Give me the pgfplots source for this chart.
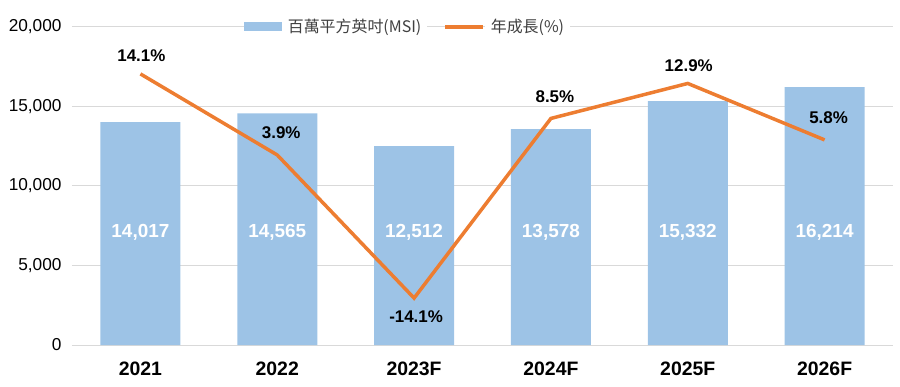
\documentclass[border=0pt]{standalone}
\usepackage{pgfplots}
\pgfplotsset{compat=1.18}
\usepackage{fontspec}
\setmainfont{Liberation Sans}
\newfontfamily\cjk{Noto Sans CJK TC}
\definecolor{barblue}{HTML}{9DC3E6}
\definecolor{lineorange}{HTML}{ED7D31}
\definecolor{gridgray}{HTML}{D9D9D9}
\definecolor{legtext}{HTML}{404040}
\pgfplotsset{/pgf/number format/assume math mode=true}
\begin{document}
\begin{tikzpicture}
\useasboundingbox (-72bp,-42bp) rectangle (828bp,345bp);
\begin{axis}[
  at={(0,0)}, anchor=south west, scale only axis,
  width=821bp, height=318bp,
  xmin=-0.5, xmax=5.5, ymin=0, ymax=20000,
  axis line style={draw=none},
  major tick length=0pt,
  ymajorgrids, grid style={gridgray, line width=1bp},
  xtick={0,1,2,3,4,5},
  xticklabels={2021,2022,2023F,2024F,2025F,2026F},
  ytick={0,5000,10000,15000,20000},
  scaled y ticks=false,
  yticklabel style={font=\fontsize{17.3}{19}\selectfont, /pgf/number format/1000 sep={,}, xshift=-7bp},
  xticklabel style={font=\bfseries\fontsize{19.5}{21}\selectfont, yshift=-13bp},
  legend style={at={(0.408,1)}, anchor=center, draw=none, fill=none,
    legend columns=2, font=\cjk\fontsize{16}{18}\selectfont, text=legtext,
    nodes={fill=white, inner xsep=6bp, inner ysep=2bp},
    /tikz/every even column/.append style={column sep=16bp}},
]
\addplot[ybar, bar width=80bp, fill=barblue, draw=none,
  legend image code/.code={\fill[barblue] (0bp,-4.5bp) rectangle (38bp,4.5bp);}]
  coordinates {(0,14017) (1,14565) (2,12512) (3,13578) (4,15332) (5,16214)};
\addlegendentry{百萬平方英吋(MSI)}
\addlegendimage{legend image code/.code={\draw[lineorange, line width=3.5bp] (0bp,0bp) -- (38bp,0bp);}}
\addlegendentry{年成長(\%)}
\addplot[draw=none, mark=none, nodes near coords, point meta=explicit,
  nodes near coords style={white, font=\bfseries\fontsize{19}{21}\selectfont, anchor=center, /pgf/number format/1000 sep={,}}]
  coordinates {(0,7100)[14017] (1,7100)[14565] (2,7100)[12512] (3,7100)[13578] (4,7100)[15332] (5,7100)[16214]};
\end{axis}
\begin{axis}[
  at={(0,0)}, anchor=south west, scale only axis,
  width=821bp, height=318bp,
  xmin=-0.5, xmax=5.5, ymin=-20, ymax=20,
  hide x axis, hide y axis,
]
\addplot[lineorange, line width=3.5bp, mark=none]
  coordinates {(0,14.1) (1,3.9) (2,-14.1) (3,8.5) (4,12.9) (5,5.8)};
\addplot[draw=none, mark=none, point meta=y,
  nodes near coords={\pgfmathprintnumber[fixed,fixed zerofill,precision=1]{\pgfplotspointmeta}\%},
  nodes near coords style={black, font=\bfseries\fontsize{17}{19}\selectfont, anchor=center, yshift=18bp, xshift=1bp}]
  coordinates {(0,14.1) (4,12.9)};
\addplot[draw=none, mark=none, point meta=y,
  nodes near coords={\pgfmathprintnumber[fixed,fixed zerofill,precision=1]{\pgfplotspointmeta}\%},
  nodes near coords style={black, font=\bfseries\fontsize{17}{19}\selectfont, anchor=center, yshift=22bp, xshift=4bp}]
  coordinates {(1,3.9) (3,8.5) (5,5.8)};
\addplot[draw=none, mark=none, point meta=y,
  nodes near coords={\pgfmathprintnumber[fixed,fixed zerofill,precision=1]{\pgfplotspointmeta}\%},
  nodes near coords style={black, font=\bfseries\fontsize{17}{19}\selectfont, anchor=center, yshift=-19bp, xshift=2bp}]
  coordinates {(2,-14.1)};
\end{axis}
\end{tikzpicture}
\end{document}
